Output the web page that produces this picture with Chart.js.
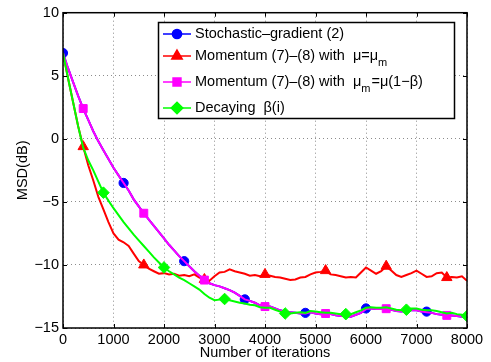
<!DOCTYPE html>
<html><head><meta charset="utf-8">
<script src="https://cdn.jsdelivr.net/npm/chart.js@4/dist/chart.umd.min.js"></script>
<style>html,body{margin:0;padding:0;background:#fff}#wrap{width:491px;height:362px;position:relative}</style>
</head><body><div id="wrap"><canvas id="c" width="491" height="362"></canvas></div>
<script>
const STEP = 100;
const xTicks = [0,1000,2000,3000,4000,5000,6000,7000,8000];
const yTicks = [-15,-10,-5,0,5,10];
const seriesNames = ["Stochastic\u2013gradient (2)","Momentum (7)\u2013(8) with  \u03bc=\u03bcm","Momentum (7)\u2013(8) with  \u03bcm=\u03bc(1\u2212\u03b2)","Decaying  \u03b2(i)"];
const sgd = [6.8,5.6,4.5,3.4,2.4,1.5,0.6,-0.2,-0.9,-1.6,-2.3,-2.9,-3.5,-4.1,-4.8,-5.35,-5.9,-6.4,-6.9,-7.4,-7.9,-8.4,-8.85,-9.3,-9.7,-10.1,-10.5,-10.85,-11.2,-11.45,-11.6,-11.7,-11.85,-12.0,-12.2,-12.45,-12.73,-12.85,-13.0,-13.2,-13.3,-13.3,-13.45,-13.6,-13.7,-13.75,-13.8,-13.85,-13.8,-13.75,-13.85,-13.9,-13.85,-13.9,-14.0,-14.05,-14.05,-14.1,-13.95,-13.8,-13.45,-13.45,-13.5,-13.5,-13.45,-13.55,-13.65,-13.7,-13.65,-13.6,-13.6,-13.7,-13.7,-13.8,-13.9,-13.95,-14.0,-14.0,-14.05,-14.1,-14.15];
const momentum = [6.8,4.8,2.9,1.0,-0.62,-2.1,-3.3,-4.6,-5.6,-6.6,-7.5,-8.0,-8.2,-8.5,-9.1,-9.7,-10.0,-10.3,-10.5,-10.7,-10.65,-10.75,-10.7,-10.85,-10.8,-10.9,-10.75,-11.0,-11.15,-11.25,-10.9,-10.6,-10.55,-10.35,-10.5,-10.6,-10.7,-10.85,-10.8,-10.9,-10.75,-10.85,-10.95,-11.0,-11.1,-11.2,-11.15,-11.0,-10.95,-10.75,-10.6,-10.55,-10.45,-10.75,-10.8,-10.9,-11.0,-10.95,-11.0,-10.6,-10.2,-10.45,-10.7,-10.5,-10.1,-10.45,-10.8,-10.95,-10.8,-10.65,-10.45,-10.7,-10.95,-10.9,-10.65,-10.6,-11.0,-10.95,-11.0,-10.9,-11.25];
const momentumScaled = [6.8,5.6,4.5,3.4,2.4,1.5,0.6,-0.2,-0.9,-1.6,-2.3,-2.9,-3.5,-4.1,-4.8,-5.35,-5.9,-6.4,-6.9,-7.4,-7.9,-8.4,-8.85,-9.3,-9.7,-10.1,-10.5,-10.85,-11.2,-11.45,-11.6,-11.7,-11.85,-12.0,-12.2,-12.45,-12.73,-12.85,-13.0,-13.2,-13.3,-13.3,-13.45,-13.6,-13.7,-13.75,-13.8,-13.85,-13.85,-13.75,-13.85,-13.9,-13.85,-13.9,-14.0,-14.05,-14.05,-14.1,-13.95,-13.8,-13.5,-13.45,-13.5,-13.5,-13.47,-13.55,-13.65,-13.7,-13.65,-13.6,-13.6,-13.7,-13.75,-13.8,-13.9,-13.95,-14.0,-14.0,-14.05,-14.1,-14.15];
const decaying = [6.8,4.8,2.9,1.0,-0.7,-1.7,-2.5,-3.4,-4.27,-4.9,-5.5,-6.05,-6.6,-7.1,-7.6,-8.05,-8.5,-8.95,-9.4,-9.8,-10.2,-10.5,-10.75,-11.0,-11.2,-11.45,-11.7,-11.95,-12.3,-12.6,-12.8,-12.75,-12.7,-12.8,-12.9,-13.0,-13.05,-13.15,-13.2,-13.35,-13.4,-13.4,-13.55,-13.7,-13.85,-13.85,-13.8,-13.75,-13.8,-13.65,-13.7,-13.75,-13.8,-13.8,-13.85,-13.9,-13.9,-13.9,-13.75,-13.6,-13.4,-13.35,-13.4,-13.4,-13.35,-13.45,-13.55,-13.6,-13.55,-13.45,-13.45,-13.55,-13.6,-13.6,-13.65,-13.75,-13.85,-13.8,-13.9,-13.95,-14.05];

const iters = sgd.map((_, i) => i * STEP);
const toXY = arr => arr.map((v, i) => ({x: iters[i], y: v}));

const FONT = "'Liberation Sans', Arial, Helvetica, sans-serif";
const FS = 14.5;
const styles = [
  {color:'#0000ff', point:'circle', r:4.6, off:0},
  {color:'#ff0000', point:'triangle', r:6, off:4},
  {color:'#ff00ff', point:'rect', r:5.6, off:4},
  {color:'#00ff00', point:'rectRot', r:5.8, off:8}
];
const seriesData = [sgd, momentum, momentumScaled, decaying];

const datasets = seriesData.map((arr, k) => ({
  label: seriesNames[k],
  data: toXY(arr),
  borderColor: styles[k].color,
  backgroundColor: styles[k].color,
  borderWidth: 2,
  pointStyle: styles[k].point,
  pointBorderColor: styles[k].color,
  pointBackgroundColor: styles[k].color,
  pointBorderWidth: 1,
  pointRadius: ctx => (ctx.dataIndex % 12 === styles[k].off ? styles[k].r : 0),
  pointHoverRadius: 0,
  tension: 0,
  order: 4 - k
}));

const framePlugin = {
  id: 'frame',
  afterDatasetsDraw(chart) {
    const {ctx, chartArea: a, scales} = chart;
    ctx.save();
    ctx.strokeStyle = '#000';
    ctx.lineWidth = 1;
    ctx.beginPath();
    xTicks.forEach(t => {
      const px = Math.round(scales.x.getPixelForValue(t)) + 0.5;
      ctx.moveTo(px, a.bottom); ctx.lineTo(px, a.bottom - 4);
      ctx.moveTo(px, a.top); ctx.lineTo(px, a.top + 4);
    });
    yTicks.forEach(t => {
      const py = Math.round(scales.y.getPixelForValue(t)) + 0.5;
      ctx.moveTo(a.left, py); ctx.lineTo(a.left + 4, py);
      ctx.moveTo(a.right, py); ctx.lineTo(a.right - 4, py);
    });
    ctx.stroke();
    ctx.lineWidth = 1.5;
    ctx.strokeRect(a.left, a.top, a.right - a.left, a.bottom - a.top);
    ctx.restore();
  },
  afterDraw(chart) {
    const ctx = chart.ctx;
    const box = {x:158.5, y:22.5, w:296, h:96};
    ctx.save();
    ctx.fillStyle = '#fff';
    ctx.fillRect(box.x, box.y, box.w, box.h);
    ctx.strokeStyle = '#000';
    ctx.lineWidth = 1.5;
    ctx.strokeRect(box.x, box.y, box.w, box.h);
    const rows = [
      {y:34, parts:[["Stochastic\u2013gradient (2)",0]]},
      {y:56, parts:[["Momentum (7)\u2013(8) with  \u03bc=\u03bc",0],["m",1]]},
      {y:82, parts:[["Momentum (7)\u2013(8) with  \u03bc",0],["m",1],["=\u03bc(1\u2212\u03b2)",0]]},
      {y:108, parts:[["Decaying  \u03b2(i)",0]]}
    ];
    rows.forEach((row, k) => {
      const st = styles[k];
      ctx.strokeStyle = st.color; ctx.lineWidth = 1.5;
      ctx.beginPath(); ctx.moveTo(163, row.y); ctx.lineTo(191, row.y); ctx.stroke();
      ctx.fillStyle = st.color;
      Chart.helpers.drawPoint(ctx, {pointStyle: st.point, radius: st.r, borderWidth: 1}, 177, row.y);
      ctx.fill();
      let x = 195;
      ctx.fillStyle = '#000';
      ctx.textBaseline = 'middle';
      row.parts.forEach(([t, sub]) => {
        ctx.font = (sub ? 11 : FS) + 'px ' + FONT;
        ctx.fillText(t, x, row.y + (sub ? 7 : 0));
        x += ctx.measureText(t).width + (sub ? 1 : 0);
      });
    });
    ctx.restore();
  }
};

new Chart(document.getElementById('c'), {
  type: 'line',
  data: {datasets},
  options: {
    responsive: false,
    animation: false,
    events: [],
    layout: {padding: {left: 0, right: 24, top: 8, bottom: 0}},
    plugins: {legend: {display: false}, tooltip: {enabled: false}},
    scales: {
      x: {
        type: 'linear', min: 0, max: 8000,
        afterBuildTicks: s => { s.ticks = xTicks.map(v => ({value: v})); },
        afterFit: s => { s.height = 34; },
        ticks: {color: '#000', font: {family: FONT, size: FS}, padding: 3, maxRotation: 0, autoSkip: false, callback: v => String(v)},
        grid: {color: '#8c8c8c', lineWidth: 1, drawTicks: false},
        border: {display: false, dash: [1, 3]},
        title: {display: true, text: 'Number of iterations', color: '#000', font: {family: FONT, size: FS}, padding: {top: -3, bottom: 0}}
      },
      y: {
        min: -15, max: 10,
        afterBuildTicks: s => { s.ticks = yTicks.map(v => ({value: v})); },
        afterFit: s => { s.width = 63; },
        ticks: {color: '#000', font: {family: FONT, size: FS}, padding: 4, callback: v => String(v).replace('-', '\u2212')},
        grid: {color: '#8c8c8c', lineWidth: 1, drawTicks: false},
        border: {display: false, dash: [1, 3]},
        title: {display: true, text: 'MSD(dB)', color: '#000', font: {family: FONT, size: FS}, padding: {top: 14, bottom: 0}}
      }
    }
  },
  plugins: [framePlugin]
});
</script></body></html>
